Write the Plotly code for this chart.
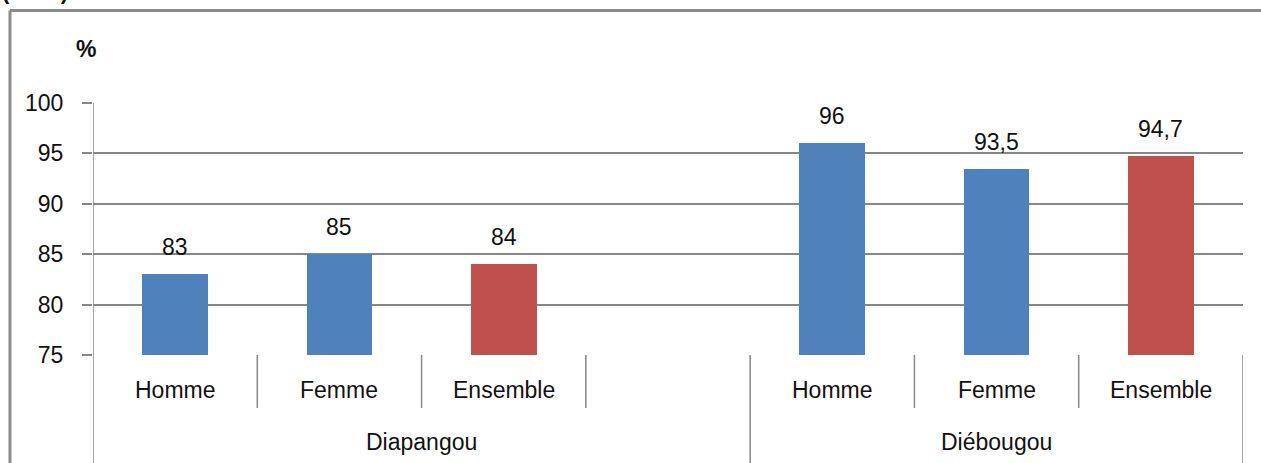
import plotly.graph_objects as go

# Data
groups = ["Diapangou", "Diébougou"]
categories = ["Homme", "Femme", "Ensemble"]
diapangou = [83, 85, 84]
diebougou = [96, 93.5, 94.7]
y_ticks = [75, 80, 85, 90, 95, 100]

BLUE = "#4F81BD"
RED = "#C0504D"
GRID = "#878787"
FONT = "Liberation Sans"
FS = 23

# Slot layout: three categories, an empty slot, then three categories
group_slots = [[0, 1, 2], [4, 5, 6]]
group_values = [diapangou, diebougou]
n_slots = 7


def fmt(v):
    s = f"{v:g}"
    return s.replace(".", ",")


fig = go.Figure()

xs, ys, colors = [], [], []
for slots, vals in zip(group_slots, group_values):
    for i, (s, v) in enumerate(zip(slots, vals)):
        xs.append(s + 0.5)
        ys.append(v)
        colors.append(RED if categories[i] == "Ensemble" else BLUE)

fig.add_trace(go.Bar(x=xs, y=ys, width=0.4, marker=dict(color=colors, line=dict(width=0)),
                     showlegend=False, hoverinfo="skip"))

annotations = []
# value labels
for x, v in zip(xs, ys):
    annotations.append(dict(x=x, y=v, xref="x", yref="y", text=fmt(v), showarrow=False,
                            yanchor="bottom", yshift=12,
                            font=dict(family=FONT, size=FS, color="#111")))
# category labels
for slots in group_slots:
    for s, c in zip(slots, categories):
        annotations.append(dict(x=s + 0.5, y=-0.139, xref="x", yref="paper", text=c,
                                showarrow=False, yanchor="middle",
                                font=dict(family=FONT, size=FS, color="#111")))
# group labels
annotations.append(dict(x=2, y=-0.345, xref="x", yref="paper", text=groups[0], showarrow=False,
                        yanchor="middle", font=dict(family=FONT, size=FS, color="#111")))
annotations.append(dict(x=5.5, y=-0.345, xref="x", yref="paper", text=groups[1], showarrow=False,
                        yanchor="middle", font=dict(family=FONT, size=FS, color="#111")))
# unit labels
annotations.append(dict(x=-0.0065, y=1.215, xref="paper", yref="paper", text="<b>%</b>",
                        showarrow=False, xanchor="center", yanchor="middle",
                        font=dict(family=FONT, size=23, color="#111")))
annotations.append(dict(x=-0.081, y=1.384, xref="paper", yref="paper", text="<b>(en %)</b>",
                        showarrow=False, xanchor="left", yanchor="bottom",
                        font=dict(family=FONT, size=22, color="#111")))

shapes = []
# short separators between categories
for s in [1, 2, 3, 5, 6]:
    shapes.append(dict(type="line", xref="x", yref="paper", x0=s, x1=s, y0=0, y1=-0.21,
                       line=dict(color=GRID, width=1.5)))
# long separators between groups
for s in [0, 4, 7]:
    y1 = 1 if s == 0 else 0
    shapes.append(dict(type="line", xref="x", yref="paper", x0=s, x1=s, y0=-0.43, y1=y1,
                       line=dict(color=GRID, width=1.5)))
# outer frame (top and left edges)
shapes.append(dict(type="line", xref="paper", yref="paper", x0=-0.0722, x1=1.1, y0=1.367, y1=1.367,
                   line=dict(color="#8a8a8a", width=3)))
shapes.append(dict(type="line", xref="paper", yref="paper", x0=-0.0722, x1=-0.0722, y0=1.367, y1=-0.5,
                   line=dict(color="#8a8a8a", width=3)))

fig.update_layout(
    width=1261, height=463,
    margin=dict(l=93, r=18, t=103, b=108),
    paper_bgcolor="white", plot_bgcolor="white",
    annotations=annotations, shapes=shapes,
    bargap=0,
    xaxis=dict(range=[0, n_slots], showticklabels=False, showgrid=False, zeroline=False,
               showline=False, ticks=""),
    yaxis=dict(range=[75, 100], tickvals=y_ticks, showgrid=True, gridcolor=GRID, gridwidth=1.5,
               zeroline=False, showline=False, ticks="outside", ticklen=10, tickcolor=GRID,
               tickwidth=1.5, ticklabelstandoff=14,
               tickfont=dict(family=FONT, size=FS, color="#111")),
)

fig.write_html("out.html")
